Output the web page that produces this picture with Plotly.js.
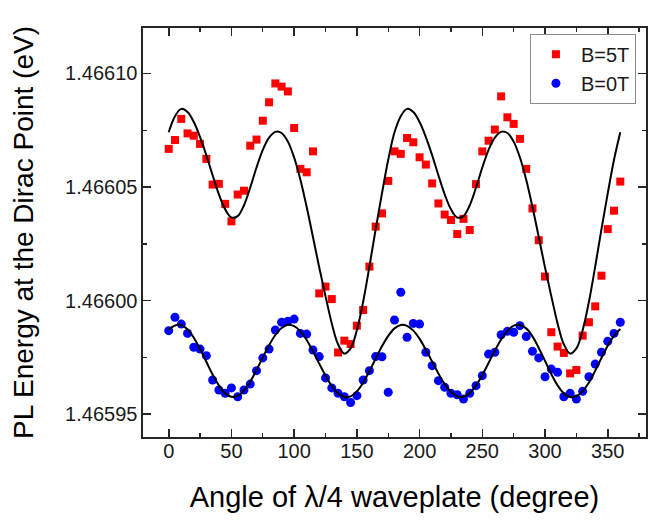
<!DOCTYPE html>
<html>
<head>
<meta charset="utf-8">
<script src="https://cdn.plot.ly/plotly-3.0.1.min.js"></script>
<style>
  html, body { margin: 0; padding: 0; background: #ffffff; }
  #chart { width: 652px; height: 522px; }
</style>
</head>
<body>
<div id="chart"></div>
<script>
// Waveplate angle (degree), one reading every 5 degrees
const angle = [
  0, 5, 10, 15, 20, 25, 30, 35, 40, 45, 50, 55, 60, 65, 70, 75, 80, 85, 90, 95,
  100, 105, 110, 115, 120, 125, 130, 135, 140, 145, 150, 155, 160, 165, 170, 175,
  180, 185, 190, 195, 200, 205, 210, 215, 220, 225, 230, 235, 240, 245, 250, 255,
  260, 265, 270, 275, 280, 285, 290, 295, 300, 305, 310, 315, 320, 325, 330, 335,
  340, 345, 350, 355, 360
];

// PL energy at the Dirac point (eV), B = 5 T
const energy5T = [
  1.4660668, 1.4660707, 1.4660800, 1.4660736, 1.4660726, 1.4660690, 1.4660624, 1.4660511,
  1.4660514, 1.4660426, 1.4660349, 1.4660467, 1.4660484, 1.4660682, 1.4660709, 1.4660792,
  1.4660873, 1.4660956, 1.4660942, 1.4660921, 1.4660760, 1.4660580, 1.4660565, 1.4660657,
  1.4660032, 1.4660062, 1.4660007, 1.4659772, 1.4659824, 1.4659809, 1.4659890, 1.4659959,
  1.4660150, 1.4660326, 1.4660384, 1.4660527, 1.4660657, 1.4660646, 1.4660716, 1.4660697,
  1.4660631, 1.4660599, 1.4660516, 1.4660428, 1.4660379, 1.4660355, 1.4660293, 1.4660360,
  1.4660311, 1.4660513, 1.4660657, 1.4660704, 1.4660753, 1.4660899, 1.4660807, 1.4660778,
  1.4660712, 1.4660580, 1.4660406, 1.4660266, 1.4660106, 1.4659861, 1.4659798, 1.4659770,
  1.4659680, 1.4659695, 1.4659846, 1.4659905, 1.4659975, 1.4660110, 1.4660315, 1.4660396,
  1.4660524
];

// PL energy at the Dirac point (eV), B = 0 T
const energy0T = [
  1.4659868, 1.4659927, 1.4659897, 1.4659856, 1.4659795, 1.4659787, 1.4659758, 1.4659651,
  1.4659607, 1.4659592, 1.4659616, 1.4659577, 1.4659607, 1.4659633, 1.4659692, 1.4659748,
  1.4659787, 1.4659871, 1.4659905, 1.4659909, 1.4659919, 1.4659856, 1.4659853, 1.4659783,
  1.4659754, 1.4659660, 1.4659616, 1.4659592, 1.4659577, 1.4659552, 1.4659582, 1.4659651,
  1.4659692, 1.4659754, 1.4659753, 1.4659597, 1.4659915, 1.4660037, 1.4659839, 1.4659900,
  1.4659897, 1.4659773, 1.4659714, 1.4659648, 1.4659619, 1.4659592, 1.4659586, 1.4659567,
  1.4659592, 1.4659626, 1.4659670, 1.4659765, 1.4659773, 1.4659850, 1.4659865, 1.4659861,
  1.4659890, 1.4659842, 1.4659777, 1.4659748, 1.4659665, 1.4659699, 1.4659685, 1.4659577,
  1.4659592, 1.4659567, 1.4659601, 1.4659665, 1.4659721, 1.4659773, 1.4659821, 1.4659856,
  1.4659905
];

// Fitted curve through the B = 5 T data (eV)
const fit5T = [
  1.4660741, 1.4660812, 1.4660844, 1.4660830, 1.4660786, 1.4660720, 1.4660640, 1.4660552,
  1.4660468, 1.4660402, 1.4660366, 1.4660372, 1.4660420, 1.4660498, 1.4660586, 1.4660664,
  1.4660718, 1.4660743, 1.4660738, 1.4660700, 1.4660630, 1.4660532, 1.4660412, 1.4660280,
  1.4660146, 1.4660020, 1.4659900, 1.4659808, 1.4659767, 1.4659790, 1.4659870, 1.4659995,
  1.4660150, 1.4660315, 1.4660472, 1.4660620, 1.4660741, 1.4660812, 1.4660844, 1.4660830,
  1.4660786, 1.4660720, 1.4660640, 1.4660552, 1.4660468, 1.4660402, 1.4660366, 1.4660372,
  1.4660420, 1.4660498, 1.4660586, 1.4660664, 1.4660718, 1.4660743, 1.4660738, 1.4660700,
  1.4660630, 1.4660532, 1.4660412, 1.4660280, 1.4660146, 1.4660020, 1.4659900, 1.4659808,
  1.4659767, 1.4659790, 1.4659870, 1.4659995, 1.4660150, 1.4660315, 1.4660472, 1.4660620,
  1.4660741
];

// Fitted curve through the B = 0 T data (eV)
const fit0T = [
  1.4659873, 1.4659891, 1.4659892, 1.4659874, 1.4659837, 1.4659787, 1.4659731, 1.4659675,
  1.4659627, 1.4659592, 1.4659577, 1.4659581, 1.4659605, 1.4659644, 1.4659695, 1.4659750,
  1.4659804, 1.4659849, 1.4659880, 1.4659894, 1.4659888, 1.4659865, 1.4659827, 1.4659777,
  1.4659723, 1.4659670, 1.4659625, 1.4659592, 1.4659576, 1.4659579, 1.4659601, 1.4659639,
  1.4659690, 1.4659745, 1.4659799, 1.4659845, 1.4659878, 1.4659893, 1.4659889, 1.4659868,
  1.4659832, 1.4659784, 1.4659732, 1.4659679, 1.4659633, 1.4659599, 1.4659579, 1.4659578,
  1.4659594, 1.4659627, 1.4659673, 1.4659726, 1.4659780, 1.4659829, 1.4659867, 1.4659890,
  1.4659893, 1.4659878, 1.4659843, 1.4659792, 1.4659735, 1.4659677, 1.4659627, 1.4659592,
  1.4659576, 1.4659580, 1.4659602, 1.4659640, 1.4659692, 1.4659748, 1.4659802, 1.4659845,
  1.4659875
];

const seriesNames = ['B=5T', 'B=0T'];

const FONT = 'Arial, "Liberation Sans", Helvetica, sans-serif';
const AXIS_COLOR = '#262626';

const traces = [
  {
    x: angle, y: energy5T, type: 'scatter', mode: 'markers', name: seriesNames[0],
    marker: { symbol: 'square', size: 8, color: '#ff0000' }
  },
  {
    x: angle, y: energy0T, type: 'scatter', mode: 'markers', name: seriesNames[1],
    marker: { symbol: 'circle', size: 9, color: '#0000ff' }
  },
  {
    x: angle, y: fit5T, type: 'scatter', mode: 'lines',
    line: { color: '#000000', width: 2, shape: 'spline', smoothing: 1 },
    showlegend: false, hoverinfo: 'skip'
  },
  {
    x: angle, y: fit0T, type: 'scatter', mode: 'lines',
    line: { color: '#000000', width: 2, shape: 'spline', smoothing: 1 },
    showlegend: false, hoverinfo: 'skip'
  }
];

const axisCommon = {
  showgrid: false,
  zeroline: false,
  showline: true,
  linecolor: AXIS_COLOR,
  linewidth: 1.6,
  mirror: 'ticks',
  ticks: 'inside',
  ticklen: 8,
  tickwidth: 1.6,
  tickcolor: AXIS_COLOR,
  tickfont: { family: FONT, size: 20, color: '#1a1a1a' },
  automargin: false
};

const layout = {
  width: 652,
  height: 522,
  margin: { l: 143, r: 6, t: 28, b: 85 },
  paper_bgcolor: '#ffffff',
  plot_bgcolor: '#ffffff',
  font: { family: FONT, color: '#000000' },
  xaxis: Object.assign({}, axisCommon, {
    range: [-20.5, 380.5],
    tick0: 0,
    dtick: 50,
    ticklabelstandoff: -5,
    minor: { dtick: 25, ticks: 'inside', ticklen: 4, tickwidth: 1.4, tickcolor: AXIS_COLOR },
    title: { text: 'Angle of \u03bb/4 waveplate (degree)', font: { family: FONT, size: 29, color: '#000000' }, standoff: 26 }
  }),
  yaxis: Object.assign({}, axisCommon, {
    range: [1.46594, 1.466120],
    tick0: 1.46595,
    dtick: 0.00005,
    tickformat: '.5f',
    minor: { dtick: 0.000025, ticks: 'inside', ticklen: 4, tickwidth: 1.4, tickcolor: AXIS_COLOR },
    title: { text: 'PL Energy at the Dirac Point (eV)', font: { family: FONT, size: 28, color: '#000000' }, standoff: 23 }
  }),
  legend: {
    x: 0.980, y: 0.986, xanchor: 'right', yanchor: 'top',
    traceorder: 'normal',
    bgcolor: '#ffffff',
    bordercolor: '#8c8c8c',
    borderwidth: 1,
    font: { family: FONT, size: 20, color: '#1a1a1a' },
    tracegroupgap: 0,
    itemwidth: 40
  },
  showlegend: true
};

Plotly.newPlot('chart', traces, layout, { displayModeBar: false, staticPlot: true });
</script>
</body>
</html>
